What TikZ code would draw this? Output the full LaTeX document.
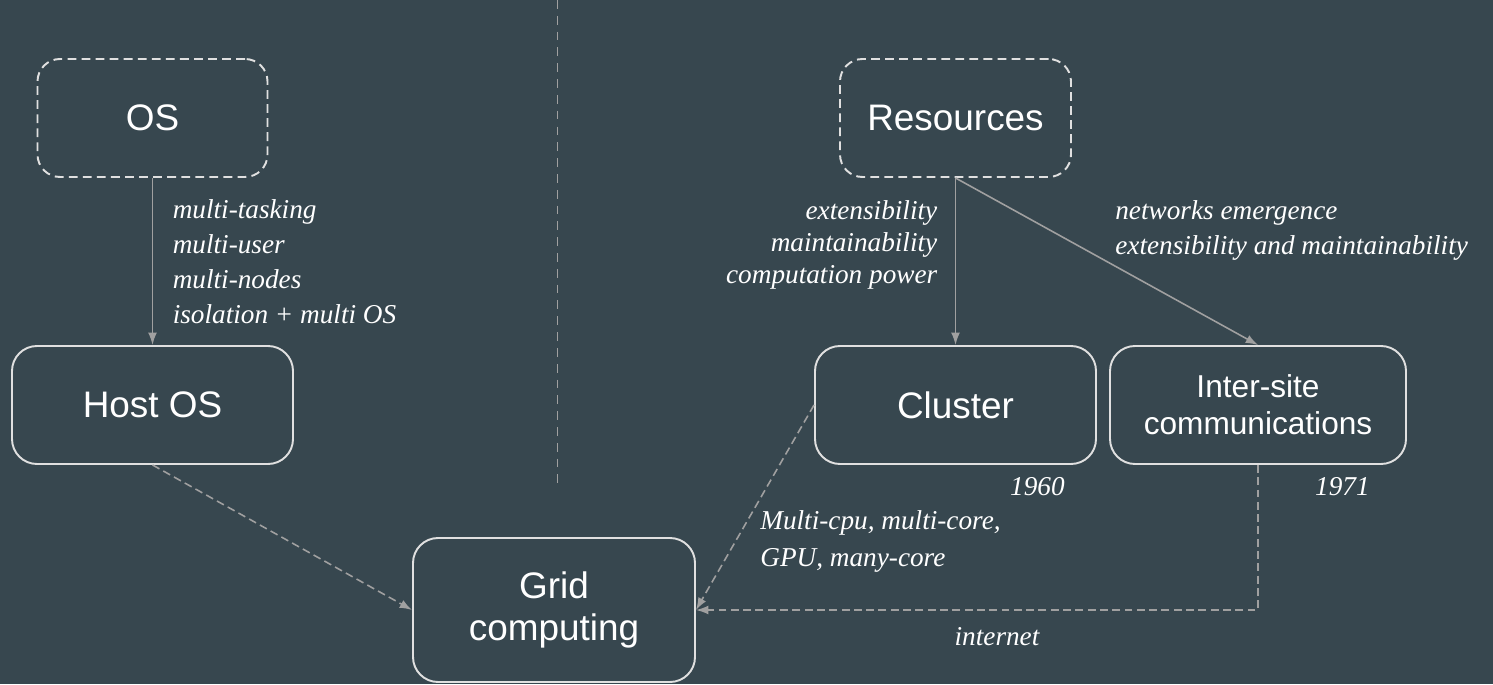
\documentclass[tikz,border=0pt]{standalone}
\usepackage{fontspec}
\newfontfamily\boxfont{Liberation Sans}
\newfontfamily\notefont{Liberation Serif}
\usetikzlibrary{arrows.meta}
\definecolor{slate}{HTML}{37474F}
\definecolor{edge}{HTML}{E0E0E0}
\definecolor{wire}{HTML}{A0A0A0}
\begin{document}
\begin{tikzpicture}
	[	box/.style={rectangle,rounded corners=.5cm,draw=edge,line width=1.1pt,text=white,font=\boxfont\fontsize{21}{24}\selectfont,minimum width=5.62cm,minimum height=2.36cm,align=center},
	dbox/.style={box,dash pattern=on 5pt off 3pt,minimum width=4.6cm,rounded corners=.45cm},
	lbl/.style={font=\notefont\itshape\fontsize{15.5}{20}\selectfont,text=white,inner sep=0pt},
	link/.style={draw=wire,line width=.9pt,-{Latex[length=7pt,width=5pt]}},
	dlink/.style={link,dash pattern=on 4.5pt off 2.5pt}
	]
	\fill[slate] (0,0) rectangle (29.86,13.68);
	\useasboundingbox (0,0) rectangle (29.86,13.68);

	% separator
	\draw[wire,line width=.9pt,dash pattern=on 5pt off 4pt] (11.15,13.68) -- (11.15,4.02);

	\node[dbox] (os) at (3.05,11.32){OS};
	\node[box] (host) at (3.05,5.58){Host OS};
	\node[dbox,minimum width=4.62cm] (res) at (19.11,11.32){Resources};
	\node[box] (cluster) at (19.11,5.58){Cluster};
	\node[box,minimum width=5.92cm,font=\boxfont\fontsize{18}{21}\selectfont] (inter) at (25.16,5.58){Inter-site\\communications};
	\node[box,minimum width=5.64cm,minimum height=2.88cm,font=\boxfont\fontsize{21}{23.8}\selectfont] (grid) at (11.08,1.48){Grid\\computing};

	\draw[link] (os) -- node[lbl,right=3.9mm,align=left]{multi-tasking\\multi-user\\multi-nodes\\isolation + multi OS} (host);
	\draw[link] (res.south) -- node[lbl,pos=.4,left=3.5mm,align=right,font=\notefont\itshape\fontsize{15.5}{18.1}\selectfont]{extensibility\\maintainability\\computation power} (cluster);
	\draw[link] (res.south) -- (inter.north);
	\node[lbl,anchor=west,align=left,font=\notefont\itshape\fontsize{15.5}{19.8}\selectfont] (why) at (22.3,9.07){networks emergence\\extensibility and maintainability};

	\draw[dlink] (host.south) -- (grid.west);
	\draw[dlink] (cluster.west) -- (grid.east);
	\draw[dlink] (inter.south) |- (grid.east);

\node[lbl,anchor=east] (y1960) at (21.3,3.94){1960};
\node[lbl,anchor=east] (y1971) at (27.4,3.94){1971};
\node[lbl,anchor=west,align=left,font=\notefont\itshape\fontsize{15.5}{21}\selectfont] (cpu) at (15.2,2.85){Multi-cpu, multi-core,\\GPU, many-core};
\node[lbl] (net) at (19.94,0.94){internet};
	\end{tikzpicture}
\end{document}
